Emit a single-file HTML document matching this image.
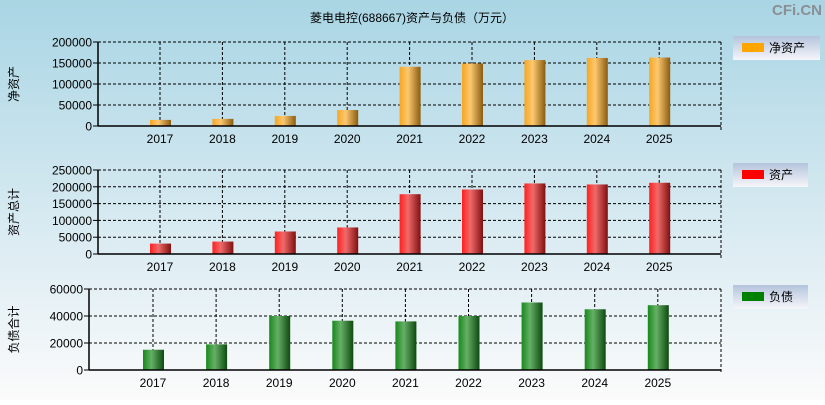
<!DOCTYPE html>
<html><head><meta charset="utf-8"><style>
body{margin:0;width:825px;height:400px;overflow:hidden;font-family:"Liberation Sans","Noto Sans CJK SC",sans-serif}
</style></head><body>
<svg id="c" width="825" height="400" xmlns="http://www.w3.org/2000/svg" font-family="Liberation Sans, Noto Sans CJK SC, sans-serif">
<defs>
<linearGradient id="bg" x1="0" y1="0" x2="0" y2="1"><stop offset="0" stop-color="#a9d5e4"/><stop offset="0.5" stop-color="#d3e8f0"/><stop offset="1" stop-color="#fbfbfb"/></linearGradient>
<linearGradient id="g0" x1="0" x2="1"><stop offset="0" stop-color="#f6a623"/><stop offset="0.4" stop-color="#fcc870"/><stop offset="1" stop-color="#8a5c10"/></linearGradient>
<linearGradient id="g1" x1="0" x2="1"><stop offset="0" stop-color="#ff2020"/><stop offset="0.4" stop-color="#f06a6a"/><stop offset="1" stop-color="#801010"/></linearGradient>
<linearGradient id="g2" x1="0" x2="1"><stop offset="0" stop-color="#18881c"/><stop offset="0.4" stop-color="#66b066"/><stop offset="1" stop-color="#0e4a10"/></linearGradient>
<linearGradient id="lg" x1="0" y1="0" x2="0" y2="1"><stop offset="0" stop-color="#b4c4dc"/><stop offset="1" stop-color="#f6f6fa"/></linearGradient>
</defs>
<rect width="825" height="400" fill="url(#bg)"/>
<text x="412" y="22" font-size="12" text-anchor="middle">菱电电控(688667)资产与负债（万元）</text>
<text x="822" y="15" font-size="15" font-weight="bold" fill="#8a8f94" text-anchor="end">CFi.CN</text>
</svg>
<script>
const years=["2017","2018","2019","2020","2021","2022","2023","2024","2025"];
const netAssets=[14500,17000,24000,38000,141000,149000,157000,162000,163000];
const totalAssets=[31000,37000,67000,79000,178000,192000,210000,207000,212000];
const liabilities=[15000,19000,40000,36500,36000,40000,50000,45000,48000];
const ticks1=[0,50000,100000,150000,200000];
const ticks2=[0,50000,100000,150000,200000,250000];
const ticks3=[0,20000,40000,60000];
const svg=document.getElementById('c');
const NS='http://www.w3.org/2000/svg';
function mk(t,a,txt){const e=document.createElementNS(NS,t);for(const k in a)e.setAttribute(k,a[k]);if(txt!=null)e.textContent=txt;svg.appendChild(e);return e;}
const panels=[
 {vals:netAssets,ticks:ticks1,max:200000,l:98,r:721,t:42,b:126,x0:160,dx:62.4,fill:'url(#g0)',col:'#ffa500',ytitle:'净资产',leg:'净资产',ly:36,lw:87,key:'net-assets'},
 {vals:totalAssets,ticks:ticks2,max:250000,l:98,r:721,t:170,b:254,x0:160,dx:62.4,fill:'url(#g1)',col:'#ff0000',ytitle:'资产总计',leg:'资产',ly:163,lw:75,key:'total-assets'},
 {vals:liabilities,ticks:ticks3,max:60000,l:89,r:721,t:289,b:370,x0:153,dx:63.1,fill:'url(#g2)',col:'#008000',ytitle:'负债合计',leg:'负债',ly:285,lw:75,key:'liabilities'}
];
panels.forEach(p=>{
 const y=v=>p.b-(v/p.max)*(p.b-p.t);
 const x=i=>p.x0+i*p.dx;
 p.ticks.forEach(v=>{
  if(v>0){const g=mk('line',{x1:p.l,x2:p.r,y1:y(v),y2:y(v),stroke:'#000','stroke-dasharray':'3,2'});
  
  }
  mk('line',{x1:p.l-5,x2:p.l,y1:y(v),y2:y(v),stroke:'#000'});
  const t=mk('text',{x:p.l-6,y:y(v)+4.5,'font-size':12,'text-anchor':'end'},v);
  
  
 });
 years.forEach((yr,i)=>{
  const g=mk('line',{x1:x(i),x2:x(i),y1:p.t,y2:p.b,stroke:'#000','stroke-dasharray':'3,2'});
  
  
  const t=mk('text',{x:x(i),y:p.b+17,'font-size':12,'text-anchor':'middle'},yr);
  
  
 });
 mk('line',{x1:p.r,x2:p.r,y1:p.t,y2:p.b+4,stroke:'#000','stroke-dasharray':'3,2'});
 p.vals.forEach((v,i)=>{
  const b=mk('rect',{x:x(i)-10,y:y(v),width:21,height:p.b-y(v),fill:p.fill});
  
  
 });
 mk('line',{x1:p.l,x2:p.l,y1:p.t,y2:p.b,stroke:'#000','stroke-width':1.5});
 mk('line',{x1:p.l,x2:p.r,y1:p.b,y2:p.b,stroke:'#000','stroke-width':1.5});
 const cy=(p.t+p.b)/2;
 const yt=mk('text',{x:0,y:0,'font-size':12,'text-anchor':'middle',transform:`translate(18,${cy}) rotate(-90)`},p.ytitle);
 
 
 const lg=mk('rect',{x:733,y:p.ly,width:p.lw,height:24,fill:'url(#lg)'});
 
 
 const sw=mk('rect',{x:742,y:p.ly+7,width:22,height:9,fill:p.col});
 
 
 const lt=mk('text',{x:769,y:p.ly+16,'font-size':12},p.leg);
 
 
});
</script>
</body></html>
